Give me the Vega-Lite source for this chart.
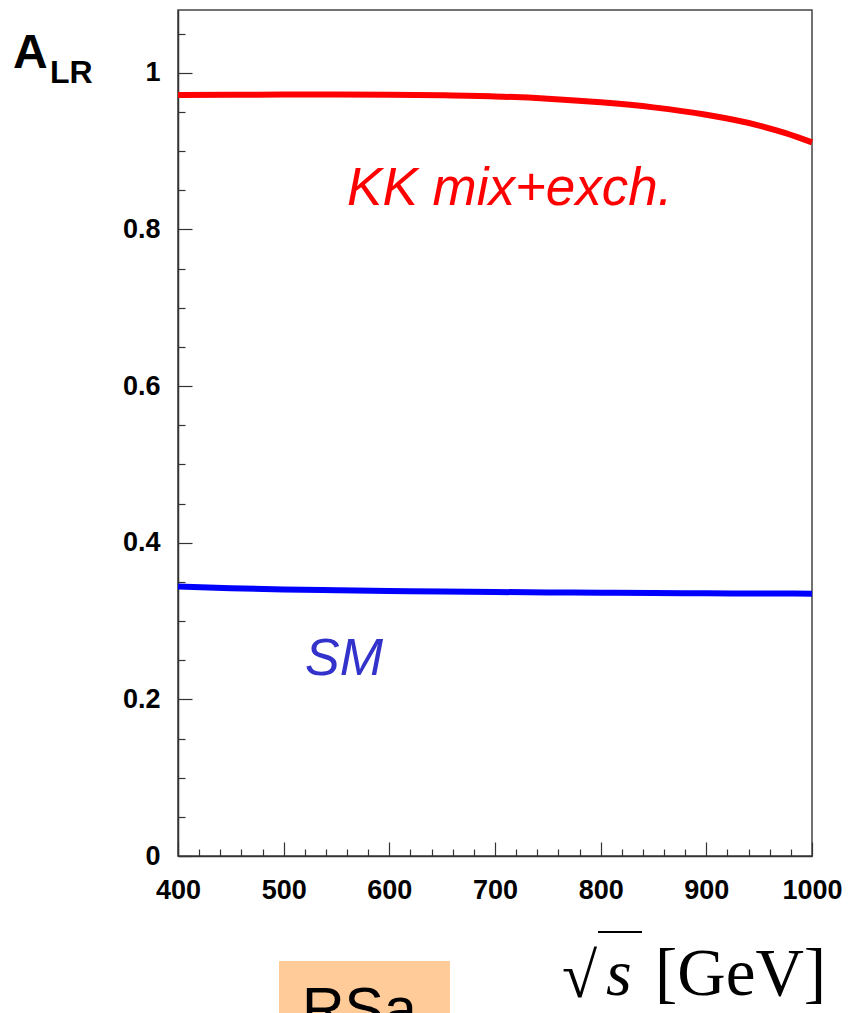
{
  "$schema": "https://vega.github.io/schema/vega-lite/v6.json",
  "width": 634,
  "height": 846,
  "autosize": "none",
  "padding": {"left": 178, "top": 10, "right": 37, "bottom": 157},
  "background": "white",
  "config": {
    "view": {"stroke": "#444", "strokeWidth": 1.5},
    "axis": {"grid": false, "domainColor": "#333", "domainWidth": 1.5, "tickColor": "#333", "tickWidth": 1.2, "title": null}
  },
  "datasets": {
    "curves": [
      {"model": "KK mix+exch.", "sqrt_s": 400, "A_LR": 0.9715},
      {"model": "KK mix+exch.", "sqrt_s": 450, "A_LR": 0.9718},
      {"model": "KK mix+exch.", "sqrt_s": 500, "A_LR": 0.972},
      {"model": "KK mix+exch.", "sqrt_s": 550, "A_LR": 0.9721},
      {"model": "KK mix+exch.", "sqrt_s": 600, "A_LR": 0.9718},
      {"model": "KK mix+exch.", "sqrt_s": 650, "A_LR": 0.9711},
      {"model": "KK mix+exch.", "sqrt_s": 700, "A_LR": 0.9697},
      {"model": "KK mix+exch.", "sqrt_s": 750, "A_LR": 0.9668},
      {"model": "KK mix+exch.", "sqrt_s": 800, "A_LR": 0.9622},
      {"model": "KK mix+exch.", "sqrt_s": 850, "A_LR": 0.9557},
      {"model": "KK mix+exch.", "sqrt_s": 900, "A_LR": 0.9462},
      {"model": "KK mix+exch.", "sqrt_s": 950, "A_LR": 0.9325},
      {"model": "KK mix+exch.", "sqrt_s": 975, "A_LR": 0.9228},
      {"model": "KK mix+exch.", "sqrt_s": 1000, "A_LR": 0.911},
      {"model": "SM", "sqrt_s": 400, "A_LR": 0.344},
      {"model": "SM", "sqrt_s": 450, "A_LR": 0.3418},
      {"model": "SM", "sqrt_s": 500, "A_LR": 0.3402},
      {"model": "SM", "sqrt_s": 550, "A_LR": 0.3392},
      {"model": "SM", "sqrt_s": 600, "A_LR": 0.3383},
      {"model": "SM", "sqrt_s": 650, "A_LR": 0.3376},
      {"model": "SM", "sqrt_s": 700, "A_LR": 0.337},
      {"model": "SM", "sqrt_s": 750, "A_LR": 0.3365},
      {"model": "SM", "sqrt_s": 800, "A_LR": 0.3361},
      {"model": "SM", "sqrt_s": 850, "A_LR": 0.3357},
      {"model": "SM", "sqrt_s": 900, "A_LR": 0.3354},
      {"model": "SM", "sqrt_s": 950, "A_LR": 0.3351},
      {"model": "SM", "sqrt_s": 1000, "A_LR": 0.3349}
    ]
  },
  "layer": [
    {
      "data": {"name": "curves"},
      "mark": {"type": "line", "strokeWidth": 6, "interpolate": "monotone"},
      "encoding": {
        "x": {"field": "sqrt_s", "type": "quantitative",
          "scale": {"domain": [400, 1000], "nice": false, "zero": false},
          "axis": {"orient": "bottom", "values": [400, 500, 600, 700, 800, 900, 1000], "tickSize": -14, "format": "d",
            "labelFont": "Liberation Sans", "labelFontWeight": "bold", "labelFontSize": 27, "labelColor": "#000",
            "labelPadding": 35, "labelFlush": false, "labelBaseline": "top"}},
        "y": {"field": "A_LR", "type": "quantitative",
          "scale": {"domain": [0, 1.08], "nice": false},
          "axis": {"orient": "left", "values": [0, 0.2, 0.4, 0.6, 0.8, 1], "tickSize": -14, "format": ".1~f",
            "labelFont": "Liberation Sans", "labelFontWeight": "bold", "labelFontSize": 27, "labelColor": "#000",
            "labelPadding": 32, "labelFlush": false}},
        "color": {"field": "model", "type": "nominal",
          "scale": {"domain": ["KK mix+exch.", "SM"], "range": ["#ff0000", "#0000ff"]}, "legend": null}
      }
    },
    {
      "data": {"name": "curves"},
      "mark": {"type": "point", "opacity": 0},
      "encoding": {
        "x": {"field": "sqrt_s", "type": "quantitative",
          "scale": {"domain": [400, 1000], "nice": false, "zero": false},
          "axis": {"orient": "bottom", "values": [420, 440, 460, 480, 520, 540, 560, 580, 620, 640, 660, 680, 720, 740, 760, 780, 820, 840, 860, 880, 920, 940, 960, 980],
            "tickSize": -7, "labels": false, "domain": false}},
        "y": {"field": "A_LR", "type": "quantitative",
          "scale": {"domain": [0, 1.08], "nice": false},
          "axis": {"orient": "left", "values": [0.05, 0.1, 0.15, 0.25, 0.3, 0.35, 0.45, 0.5, 0.55, 0.65, 0.7, 0.75, 0.85, 0.9, 0.95, 1.05],
            "tickSize": -7, "labels": false, "domain": false}}
      }
    },
    {
      "data": {"values": [{"t": "KK mix+exch."}]},
      "mark": {"type": "text", "font": "Liberation Sans", "fontStyle": "italic", "fontSize": 53, "color": "#ff0000", "align": "left", "baseline": "alphabetic"},
      "encoding": {
        "x": {"datum": 560, "scale": {"domain": [400, 1000], "nice": false, "zero": false}, "axis": null},
        "y": {"datum": 0.831, "scale": {"domain": [0, 1.08], "nice": false}, "axis": null},
        "text": {"field": "t"}
      }
    },
    {
      "data": {"values": [{"t": "SM"}]},
      "mark": {"type": "text", "font": "Liberation Sans", "fontStyle": "italic", "fontSize": 52, "color": "#3333cc", "align": "left", "baseline": "alphabetic"},
      "encoding": {
        "x": {"datum": 520.2, "scale": {"domain": [400, 1000], "nice": false, "zero": false}, "axis": null},
        "y": {"datum": 0.2311, "scale": {"domain": [0, 1.08], "nice": false}, "axis": null},
        "text": {"field": "t"}
      }
    },
    {
      "data": {"values": [{"t": "A"}]},
      "mark": {"type": "text", "font": "Liberation Sans", "fontWeight": "bold", "fontSize": 48, "color": "#000", "align": "left", "baseline": "alphabetic"},
      "encoding": {
        "x": {"datum": 243.8, "scale": {"domain": [400, 1000], "nice": false, "zero": false}, "axis": null},
        "y": {"datum": 1.006, "scale": {"domain": [0, 1.08], "nice": false}, "axis": null},
        "text": {"field": "t"}
      }
    },
    {
      "data": {"values": [{"t": "LR"}]},
      "mark": {"type": "text", "font": "Liberation Sans", "fontWeight": "bold", "fontSize": 32, "color": "#000", "align": "left", "baseline": "alphabetic"},
      "encoding": {
        "x": {"datum": 278.9, "scale": {"domain": [400, 1000], "nice": false, "zero": false}, "axis": null},
        "y": {"datum": 0.9868, "scale": {"domain": [0, 1.08], "nice": false}, "axis": null},
        "text": {"field": "t"}
      }
    },
    {
      "data": {"values": [{"t": "√"}]},
      "mark": {"type": "text", "font": "Liberation Serif", "fontSize": 64, "color": "#000", "align": "left", "baseline": "alphabetic"},
      "encoding": {
        "x": {"datum": 763.4, "scale": {"domain": [400, 1000], "nice": false, "zero": false}, "axis": null},
        "y": {"datum": -0.18, "scale": {"domain": [0, 1.08], "nice": false}, "axis": null},
        "text": {"field": "t"}
      }
    },
    {
      "data": {"values": [{"t": "s"}]},
      "mark": {"type": "text", "font": "Liberation Serif", "fontStyle": "italic", "fontSize": 66, "color": "#000", "align": "left", "baseline": "alphabetic"},
      "encoding": {
        "x": {"datum": 805, "scale": {"domain": [400, 1000], "nice": false, "zero": false}, "axis": null},
        "y": {"datum": -0.1775, "scale": {"domain": [0, 1.08], "nice": false}, "axis": null},
        "text": {"field": "t"}
      }
    },
    {
      "data": {"values": [{"t": "[GeV]"}]},
      "mark": {"type": "text", "font": "Liberation Serif", "fontSize": 67, "color": "#000", "align": "left", "baseline": "alphabetic"},
      "encoding": {
        "x": {"datum": 851.4, "scale": {"domain": [400, 1000], "nice": false, "zero": false}, "axis": null},
        "y": {"datum": -0.1775, "scale": {"domain": [0, 1.08], "nice": false}, "axis": null},
        "text": {"field": "t"}
      }
    },
    {
      "data": {"values": [{}]},
      "mark": {"type": "rule", "color": "#000", "strokeWidth": 2},
      "encoding": {
        "x": {"datum": 797.5, "scale": {"domain": [400, 1000], "nice": false, "zero": false}, "axis": null},
        "x2": {"datum": 839.1},
        "y": {"datum": -0.097, "scale": {"domain": [0, 1.08], "nice": false}, "axis": null}
      }
    },
    {
      "data": {"values": [{}]},
      "mark": {"type": "rect", "color": "#ffcc99"},
      "encoding": {
        "x": {"datum": 495.6, "scale": {"domain": [400, 1000], "nice": false, "zero": false}, "axis": null},
        "x2": {"datum": 657.4},
        "y": {"datum": -0.134, "scale": {"domain": [0, 1.08], "nice": false}, "axis": null},
        "y2": {"datum": -0.215}
      }
    },
    {
      "data": {"values": [{"t": "RSa"}]},
      "mark": {"type": "text", "font": "Liberation Sans", "fontSize": 59, "color": "#000", "align": "left", "baseline": "alphabetic"},
      "encoding": {
        "x": {"datum": 517.3, "scale": {"domain": [400, 1000], "nice": false, "zero": false}, "axis": null},
        "y": {"datum": -0.2209, "scale": {"domain": [0, 1.08], "nice": false}, "axis": null},
        "text": {"field": "t"}
      }
    }
  ],
  "resolve": {"axis": {"x": "independent", "y": "independent"}}
}
